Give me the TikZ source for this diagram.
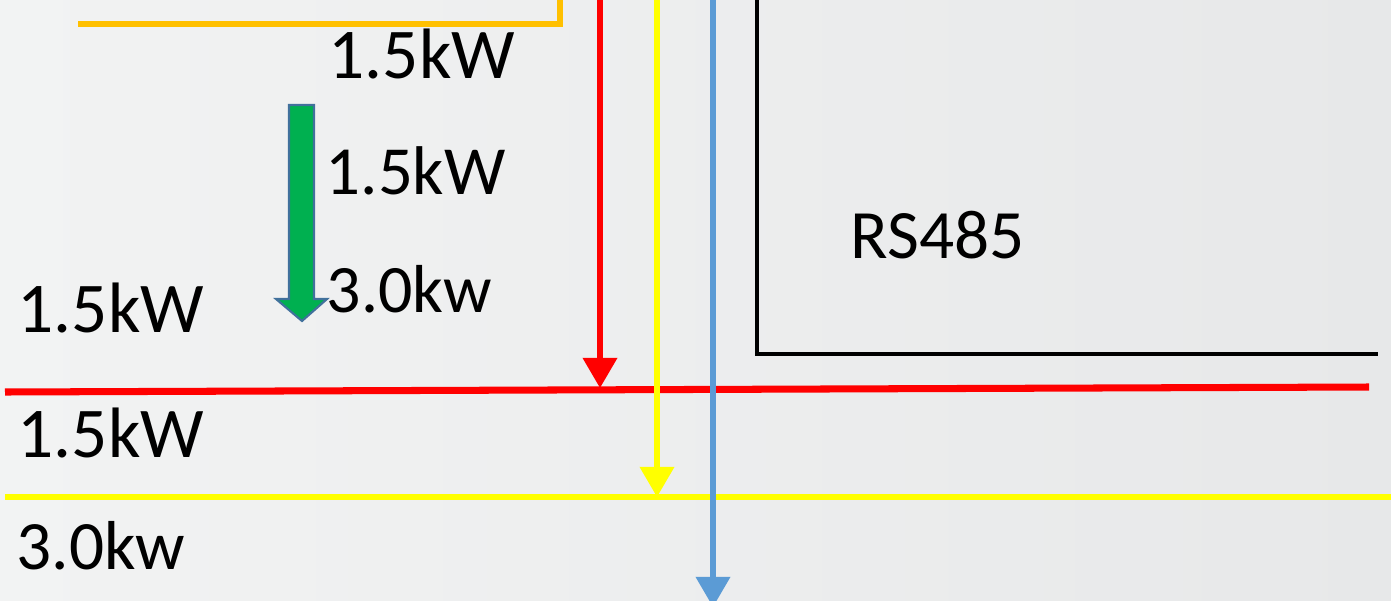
\documentclass[tikz,border=0pt]{standalone}
\usepackage{fontspec}
\setmainfont{Carlito}
\usetikzlibrary{arrows.meta}
\definecolor{bgleft}{HTML}{F2F3F3}
\definecolor{bgmid}{HTML}{E2E3E5}
\definecolor{bgright}{HTML}{E7E8E9}
\definecolor{feedorange}{HTML}{FFC000}
\definecolor{feedred}{HTML}{FF0000}
\definecolor{feedyellow}{HTML}{FFFF00}
\definecolor{feedblue}{HTML}{5B9BD5}
\definecolor{loadgreen}{HTML}{00B050}
\definecolor{loadedge}{HTML}{41719C}
\begin{document}
\begin{tikzpicture}[x=0.01cm,y=-0.01cm,
    kw/.style={anchor=base west, inner sep=0pt, font=\fontsize{#1}{#1}\selectfont},
    kw/.default=20.3,
    feed/.style={line width=1.45pt, -{Triangle[width=9.6pt,length=8.6pt]}}]
            % Draw background
            \useasboundingbox (0,0) rectangle (1391,600);
            \shade[left color=bgleft, middle color=bgmid, right color=bgright] (0,0) rectangle (1391,600);

            % Draw orange corner
            \draw[feedorange, line width=1.5pt] (78,24) -- (560,24) -- (560,0);

            % Draw RS485 corner
            \draw[black, line width=1.1pt] (757,0) -- (757,354) -- (1378,354);
            \node[kw=19.7] (rs) at (850,258) {RS485};

            % Draw bus lines
            \coordinate (redl) at (5,392);
            \coordinate (redr) at (1369,387);
            \coordinate (yell) at (5,497);
            \coordinate (yelr) at (1391,497);
            \draw[feedred, line width=2pt] (redl) -- (redr);
            \draw[feedyellow, line width=1.45pt] (yell) -- (yelr);

            % Draw feeders
            \coordinate (redtop) at (600,0);
            \coordinate (redtip) at (600,388);
            \coordinate (yeltop) at (657,0);
            \coordinate (yeltip) at (657,497);
            \coordinate (bluetop) at (713,0);
            \coordinate (bluetip) at (713,607);
            \draw[feedred, feed] (redtop) -- (redtip);
            \draw[feedyellow, feed] (yeltop) -- (yeltip);
            \draw[feedblue, feed] (bluetop) -- (bluetip);

            % Draw green load arrow
            \draw[loadedge, fill=loadgreen, line width=0.6pt]
                (289,105) -- (314,105) -- (314,299) -- (327,299) -- (302,321)
                -- (276,299) -- (289,299) -- cycle;

            % Draw labels
            \node[kw] (top) at (328,78) {1.5kW};
            \node[kw=19.6] (gone) at (325,194) {1.5kW};
            \node[kw=19.3] (gtwo) at (326,312) {3.0kw};
            \node[kw] (lone) at (17,332) {1.5kW};
            \node[kw] (ltwo) at (17,457) {1.5kW};
            \node[kw=19.7] (lthree) at (16,569) {3.0kw};
        \end{tikzpicture}
\end{document}
